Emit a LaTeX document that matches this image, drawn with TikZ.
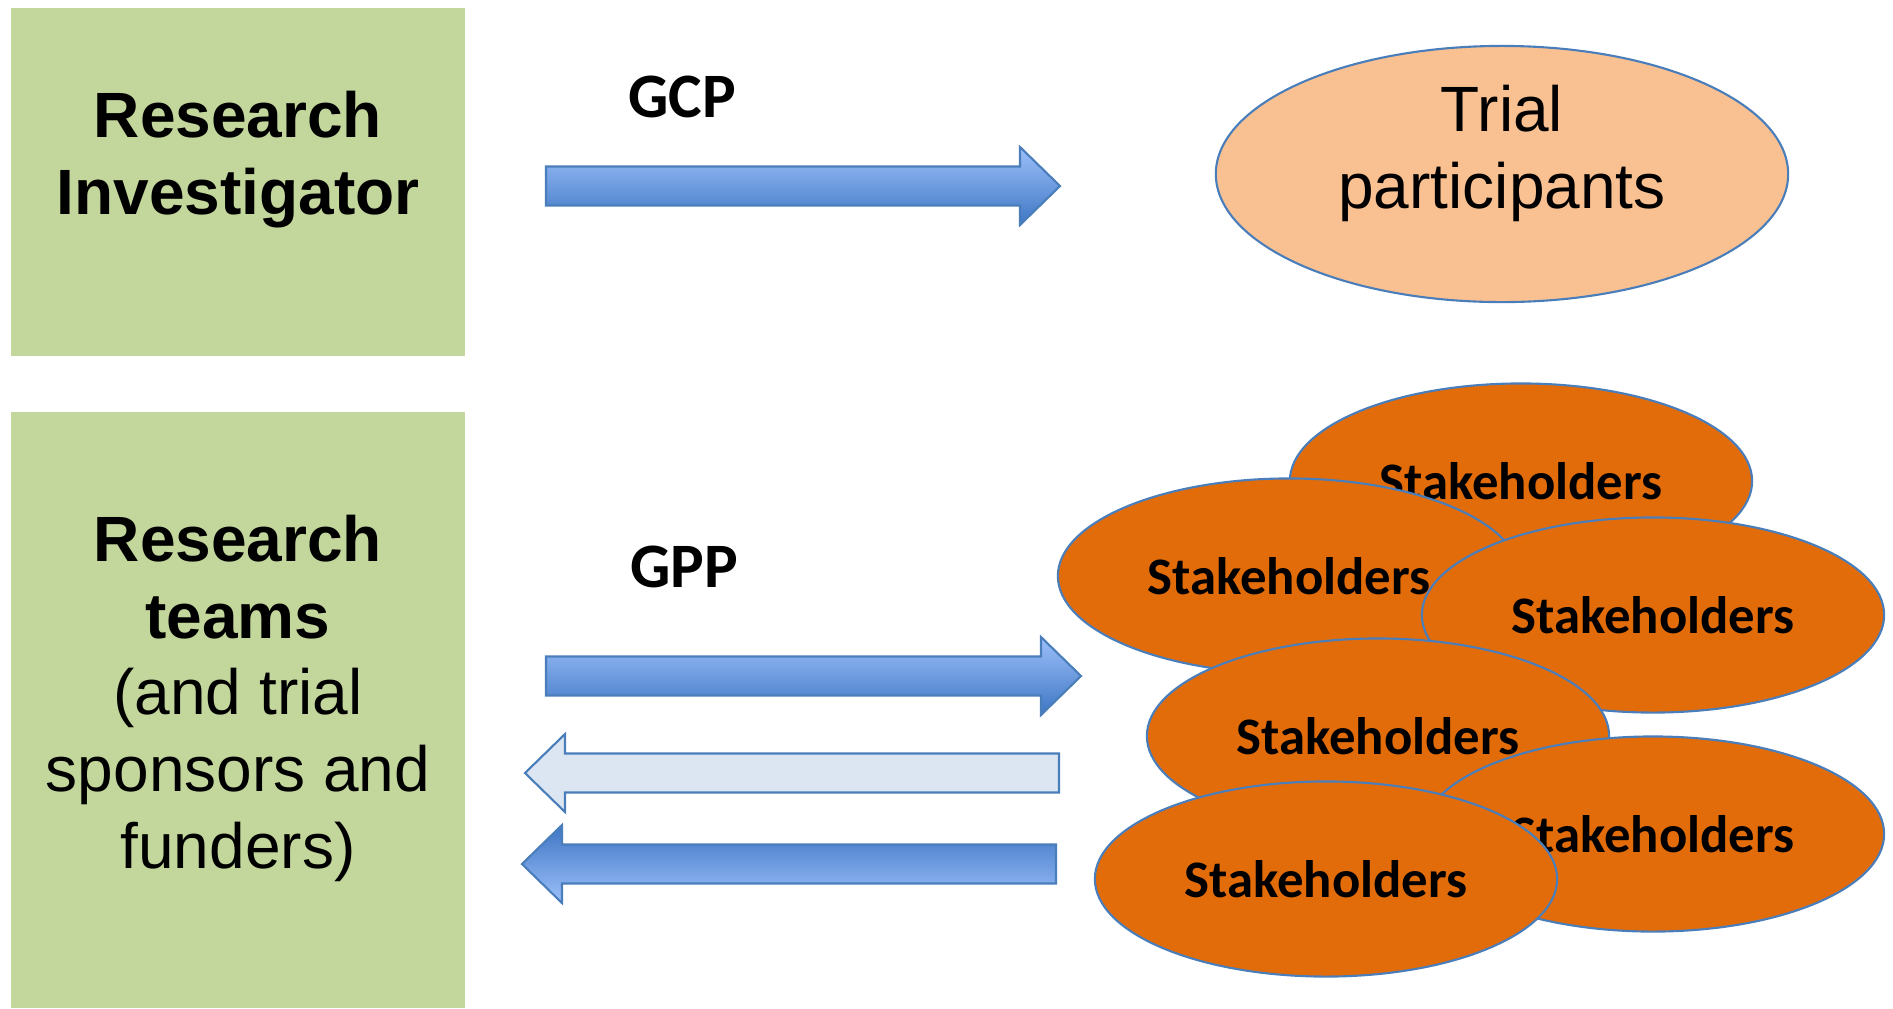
\documentclass[tikz,border=0pt]{standalone}
\usepackage{fontspec}
\setmainfont{Liberation Sans}
\newfontfamily\calibri{Carlito}
\usetikzlibrary{shapes.geometric}

\definecolor{boxgreen}{HTML}{C3D69B}
\definecolor{peach}{HTML}{F9C192}
\definecolor{stakeorange}{HTML}{E36C0A}
\definecolor{edgeblue}{HTML}{4A7EBB}
\definecolor{arrowlight}{HTML}{9CC0FA}
\definecolor{arrowdark}{HTML}{3F76C4}
\definecolor{palefill}{HTML}{DCE6F2}

\tikzset{
	greenbox/.style={rectangle, fill=boxgreen, inner sep=0pt, minimum width=4.54cm},
	boxtext/.style={align=center, inner sep=0pt, font=\fontsize{18.2pt}{21.8pt}\selectfont},
	codetext/.style={inner sep=0pt, font=\calibri\bfseries\fontsize{18pt}{21pt}\selectfont},
	trialnode/.style={ellipse, draw=edgeblue, line width=0.6pt, fill=peach, inner sep=0pt,
		minimum width=5.72cm, minimum height=2.56cm},
	stake/.style={ellipse, draw=edgeblue, line width=0.6pt, fill=stakeorange, inner sep=0pt,
		minimum width=4.62cm, minimum height=1.95cm, font=\calibri\bfseries\fontsize{15pt}{18pt}\selectfont},
	blockedge/.style={draw=edgeblue, line width=0.6pt},
	fwd/.style={blockedge, top color=arrowlight, bottom color=arrowdark},
	back/.style={blockedge, top color=arrowdark, bottom color=arrowlight},
	pale/.style={blockedge, fill=palefill}
}

% block arrow: [style] {tail x}{tip x}{centre y}
\newcommand{\blockarrow}[4][]{%
	\pgfmathsetmacro{\headx}{#3-40*sign(#3-#2)}
	\draw[#1] (#2,#4-19.5) -- (\headx,#4-19.5) -- (\headx,#4-39) -- (#3,#4)
		-- (\headx,#4+39) -- (\headx,#4+19.5) -- (#2,#4+19.5) -- cycle;
}

\begin{document}
\begin{tikzpicture}[x=0.01cm, y=-0.01cm]
	\useasboundingbox (0,0) rectangle (1893,1008);

	% base anchor sits on the last line
	\node[greenbox, minimum height=3.48cm] (inv) at (238,182) {};
	\node[greenbox, minimum height=5.96cm] (teams) at (238,710) {};
	\node[boxtext, anchor=base] (invtext) at (238,214) {\textbf{Research}\\\textbf{Investigator}};
	\node[boxtext, anchor=base] (teamstext) at (238,868)
		{\textbf{Research}\\\textbf{teams}\\(and trial\\sponsors and\\funders)};

	\node[codetext, anchor=base] (gcp) at (682,117) {GCP};
	\node[codetext, anchor=base] (gpp) at (684,587) {GPP};

	\blockarrow[fwd]{546}{1060}{186}
	\blockarrow[fwd]{546}{1081}{676}
	\blockarrow[pale]{1059}{525}{773}
	\blockarrow[back]{1056}{522}{864}

	\node[trialnode] (trial) at (1502,174) {};
	\node[boxtext, anchor=base] (trialtext) at (1502,208) {Trial\\participants};

	\node[stake] (s1) at (1521,481) {Stakeholders};
	\node[stake] (s2) at (1289,576) {Stakeholders};
	\node[stake] (s3) at (1653,615) {Stakeholders};
	\node[stake] (s4) at (1378,736) {Stakeholders};
	\node[stake] (s5) at (1653,834) {Stakeholders};
	\node[stake] (s6) at (1326,879) {Stakeholders};
\end{tikzpicture}
\end{document}
